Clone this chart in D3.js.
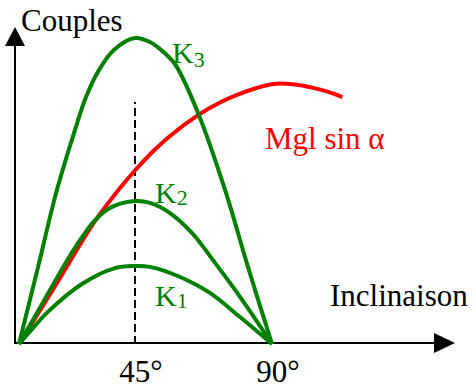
<!DOCTYPE html>
<html>
<head>
<meta charset="utf-8">
<script src="https://cdn.jsdelivr.net/npm/d3@7"></script>
<style>
  html, body { margin: 0; padding: 0; background: #fff; }
  svg { display: block; font-family: "Liberation Serif", "Times New Roman", serif; }
</style>
</head>
<body>
<div id="chart"></div>
<script>
// inclination (degrees) and torque (arbitrary units)
const k3Deg = [0, 7.4, 14.7, 21.7, 26.0, 31.0, 36.8, 45, 49.9, 53.2, 58.1, 65.7, 74.6, 82.1, 90];
const k3Val = [0, 25.2, 50.3, 69.9, 80.7, 89.5, 96.1, 100, 98.7, 96.4, 91.5, 75.5, 50.3, 25.2, 0];

const k2Deg = [0, 7.4, 14.7, 21.7, 29.5, 36.1, 45, 49.9, 56.5, 63.7, 71.3, 79.5, 90];
const k2Val = [0, 10.8, 21.6, 31.4, 40.5, 44.8, 46.7, 46.1, 42.8, 36.3, 26.5, 15.4, 0];

const k1Deg = [0, 5.4, 11.2, 24.4, 37.2, 45, 49.9, 59.8, 69.6, 79.5, 90];
const k1Val = [0, 5.2, 10.5, 19.6, 24.8, 25.5, 25.2, 21.9, 16.7, 8.8, 0];

const mglDeg = [0, 14.7, 29.5, 39.2, 45, 50.9, 56.5, 65.7, 72.9, 78.5, 84.4, 90.4, 97.6, 103.5, 108.5, 113.1];
const mglVal = [0, 19.9, 40.2, 51.0, 56.7, 62.9, 68.0, 74.8, 78.9, 81.4, 83.5, 85.0, 84.8, 83.7, 82.4, 80.7];

const tickDeg = [45, 90];
const tickLabels = ['45°', '90°'];
const dashTop = 79.1;

const W = 475, H = 390;
const GREEN = '#008000', RED = '#ff0000';

const svg = d3.select('#chart').append('svg')
  .attr('width', W)
  .attr('height', H);

const x = d3.scaleLinear().domain([0, 45, 90]).range([19, 135, 272]);
const y = d3.scaleLinear().domain([0, 100]).range([344, 38]);

const zip = (a, b) => a.map((d, i) => [d, b[i]]);
const line = d3.line()
  .x(d => x(d[0]))
  .y(d => y(d[1]))
  .curve(d3.curveCatmullRom.alpha(0.5));

// axes
const ax0 = 15, ay0 = y(0) - 1;
svg.append('line')
  .attr('x1', ax0).attr('y1', ay0 + 1)
  .attr('x2', ax0).attr('y2', 45)
  .attr('stroke', '#000').attr('stroke-width', 2);
svg.append('path')
  .attr('d', `M${ax0},27 L${ax0 - 10},46 L${ax0 + 10},46 Z`)
  .attr('fill', '#000');
svg.append('line')
  .attr('x1', ax0 - 1).attr('y1', ay0)
  .attr('x2', 436).attr('y2', ay0)
  .attr('stroke', '#000').attr('stroke-width', 2);
svg.append('path')
  .attr('d', `M455,${ay0} L434,${ay0 - 10} L434,${ay0 + 10} Z`)
  .attr('fill', '#000');

// dashed 45° marker
svg.append('line')
  .attr('x1', x(45)).attr('x2', x(45))
  .attr('y1', y(0)).attr('y2', y(dashTop))
  .attr('stroke', '#000').attr('stroke-width', 2)
  .attr('stroke-dasharray', '8,4');

// curves
const series = [
  { data: zip(mglDeg, mglVal), color: RED },
  { data: zip(k3Deg, k3Val), color: GREEN },
  { data: zip(k2Deg, k2Val), color: GREEN },
  { data: zip(k1Deg, k1Val), color: GREEN }
];
svg.selectAll('path.curve')
  .data(series)
  .join('path')
  .attr('class', 'curve')
  .attr('d', d => line(d.data))
  .attr('fill', 'none')
  .attr('stroke', d => d.color)
  .attr('stroke-width', 4)
  .attr('stroke-linejoin', 'round');

// tick labels
svg.selectAll('text.tick')
  .data(tickDeg)
  .join('text')
  .attr('class', 'tick')
  .attr('x', d => x(d) + 6)
  .attr('y', 382)
  .attr('text-anchor', 'middle')
  .attr('font-size', 31)
  .text((d, i) => tickLabels[i]);

// axis titles
svg.append('text')
  .attr('x', 21).attr('y', 31)
  .attr('font-size', 31)
  .text('Couples');
svg.append('text')
  .attr('x', 330).attr('y', 306)
  .attr('font-size', 31)
  .text('Inclinaison');

svg.append('text')
  .attr('x', 265).attr('y', 149)
  .attr('font-size', 31)
  .attr('fill', RED)
  .text('Mgl sin α');

// K labels
const kLabels = [
  { sub: '3', x: 172, y: 63, dy: 4 },
  { sub: '2', x: 155, y: 203, dy: 2 },
  { sub: '1', x: 155, y: 306, dy: 2 }
];
kLabels.forEach(k => {
  const t = svg.append('text')
    .attr('x', k.x).attr('y', k.y)
    .attr('font-size', 30)
    .attr('fill', GREEN);
  t.append('tspan').text('K');
  t.append('tspan')
    .attr('font-size', 22)
    .attr('dy', k.dy)
    .text(k.sub);
});
</script>
</body>
</html>
